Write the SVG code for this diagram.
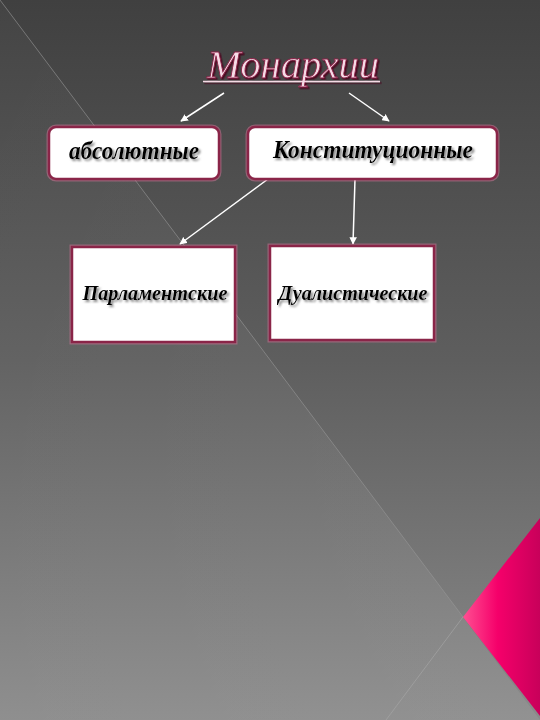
<svg xmlns="http://www.w3.org/2000/svg" width="540" height="720" viewBox="0 0 540 720">
<defs>
<linearGradient id="bg" x1="0" y1="0" x2="0" y2="1">
<stop offset="0" stop-color="#404040"/>
<stop offset="0.5" stop-color="#5e5e5e"/>
<stop offset="1" stop-color="#8a8a8a"/>
</linearGradient>
<linearGradient id="lt" x1="0" y1="0" x2="1" y2="1">
<stop offset="0" stop-color="#ffffff" stop-opacity="0.02"/>
<stop offset="1" stop-color="#ffffff" stop-opacity="0.07"/>
</linearGradient>
<linearGradient id="pink" x1="0" y1="0" x2="1" y2="0">
<stop offset="0" stop-color="#ff4f92"/>
<stop offset="0.45" stop-color="#f5006a"/>
<stop offset="1" stop-color="#c8005a"/>
</linearGradient>
<filter id="ts" x="-10%" y="-30%" width="120%" height="160%">
<feDropShadow dx="2" dy="2" stdDeviation="0.8" flood-color="#7a7a7a" flood-opacity="0.9"/>
</filter>
<filter id="tts" x="-10%" y="-30%" width="120%" height="160%">
<feDropShadow dx="1.5" dy="1.5" stdDeviation="0.5" flood-color="#4a0a20" flood-opacity="1"/>
</filter>
<marker id="ah" viewBox="0 0 10 10" refX="9" refY="5" markerWidth="5" markerHeight="5" orient="auto">
<path d="M0,0 L10,5 L0,10 z" fill="#ffffff"/>
</marker>
</defs>
<style>
.box{fill:#ffffff;stroke:#8a2548;stroke-width:2.5}
.glow{fill:none;stroke:#e07aa0;stroke-opacity:0.45;stroke-width:5}
.lbl{font-family:"Liberation Serif","DejaVu Serif",serif;font-style:italic;font-weight:bold;fill:#000000;text-anchor:middle;filter:url(#ts)}
.con{stroke:#ffffff;stroke-width:1.5;fill:none;marker-end:url(#ah)}
</style>
<rect x="0" y="0" width="540" height="720" fill="url(#bg)"/>
<polygon points="0,0 540,720 0,720" fill="url(#lt)"/>
<line x1="0" y1="0" x2="463" y2="617" stroke="#9a9a9a" stroke-opacity="0.6" stroke-width="1"/>
<line x1="386" y1="720" x2="463" y2="617" stroke="#a8a8a8" stroke-opacity="0.6" stroke-width="1"/>
<polygon points="540,518 463,617 540,716" fill="url(#pink)"/>

<g id="title" filter="url(#tts)">
<text x="293" y="78" font-family="Liberation Serif, DejaVu Serif, serif" font-style="italic" font-size="40" text-anchor="middle" fill="#f6dbe6" stroke="#8a1f45" stroke-width="0.8" textLength="172" lengthAdjust="spacingAndGlyphs">Монархии</text>
<line x1="203" y1="81.5" x2="380" y2="81.5" stroke="#f6dbe6" stroke-width="1.5"/>
</g>

<g id="connectors">
<line class="con" x1="224" y1="93" x2="181" y2="121"/>
<line class="con" x1="349" y1="93" x2="389" y2="121"/>
<line class="con" x1="268" y1="179" x2="180" y2="244"/>
<line class="con" x1="355" y1="179" x2="353" y2="244"/>
</g>

<g id="absolutnye">
<rect class="glow" x="49" y="127" width="170" height="52" rx="7"/>
<rect class="box" x="49" y="127" width="170" height="52" rx="7"/>
<text class="lbl" x="134" y="159" font-size="25" textLength="130" lengthAdjust="spacingAndGlyphs">абсолютные</text>
</g>

<g id="konstitucionnye">
<rect class="glow" x="248" y="127" width="249" height="52" rx="7"/>
<rect class="box" x="248" y="127" width="249" height="52" rx="7"/>
<text class="lbl" x="373" y="158" font-size="25" textLength="200" lengthAdjust="spacingAndGlyphs">Конституционные</text>
</g>

<g id="parlamentskie">
<rect class="glow" x="72" y="247" width="163" height="95"/>
<rect class="box" x="72" y="247" width="163" height="95"/>
<text class="lbl" x="155" y="300" font-size="22" textLength="145" lengthAdjust="spacingAndGlyphs">Парламентские</text>
</g>

<g id="dualisticheskie">
<rect class="glow" x="270" y="246" width="164" height="94"/>
<rect class="box" x="270" y="246" width="164" height="94"/>
<text class="lbl" x="353" y="300" font-size="22" textLength="149" lengthAdjust="spacingAndGlyphs">Дуалистические</text>
</g>
</svg>
